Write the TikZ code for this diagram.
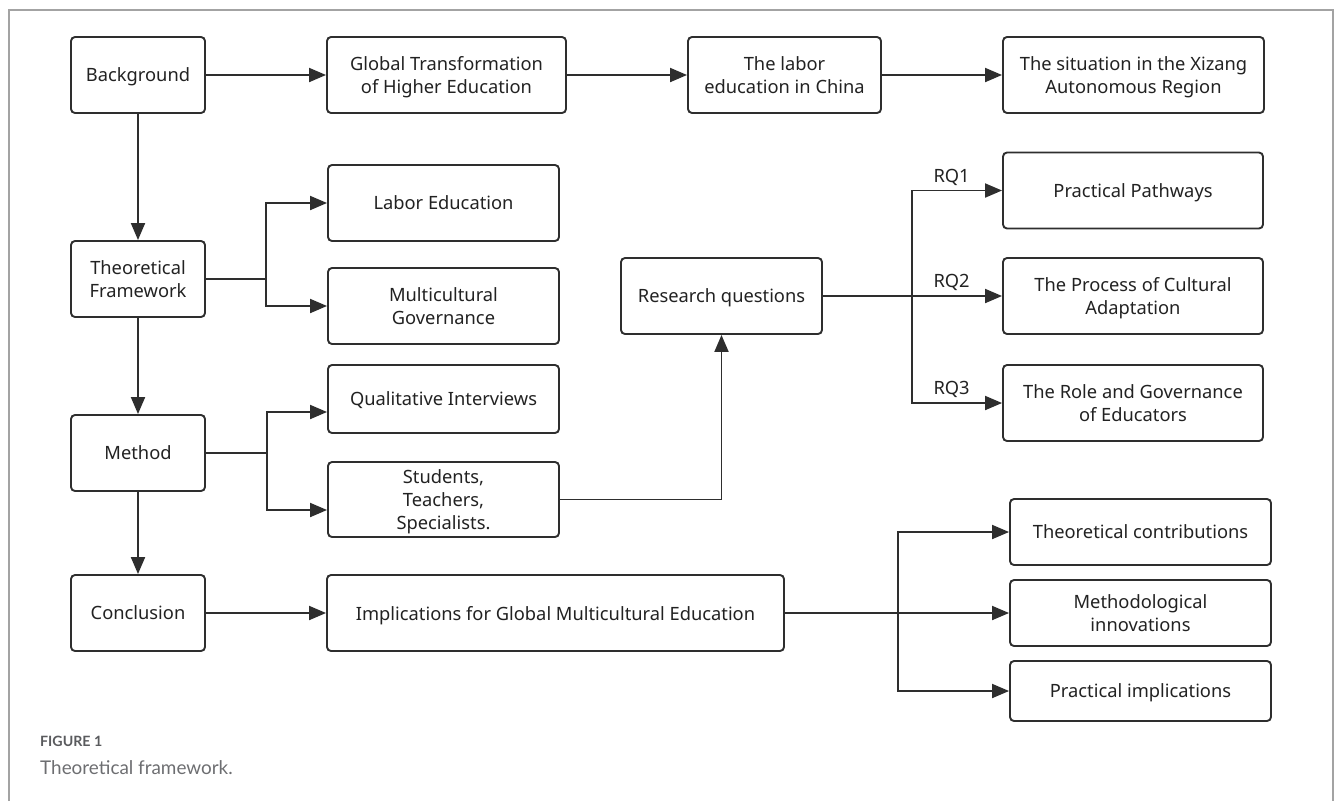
\documentclass[tikz,border=0pt]{standalone}
\usepackage{fontspec}
\setmainfont{Noto Sans}
\newfontfamily\captionfont{Lato}
\usetikzlibrary{arrows.meta, positioning}
\definecolor{linegray}{HTML}{2E2E2E}
\definecolor{textgray}{HTML}{222222}
\definecolor{framegray}{HTML}{A3A3A3}
\definecolor{captiongray}{HTML}{6D6E71}
\definecolor{labelgray}{HTML}{5A5B5E}

\begin{document}
\begin{tikzpicture}[x=1pt, y=-1pt]
% Define styles
\tikzstyle{box} = [rectangle, draw=linegray, line width=1.9pt, rounded corners=4pt, fill=white, text=textgray, align=center, inner sep=2pt, text depth=0pt, minimum height=76pt, font=\fontsize{18.3}{23}\selectfont]
\tikzstyle{arrow} = [line width=1.9pt, draw=linegray, -{Triangle[length=17pt,width=14pt]}]
\tikzstyle{wire} = [line width=1.9pt, draw=linegray]
\tikzstyle{rqlabel} = [above=4pt, text=textgray, font=\fontsize{18.3}{21}\selectfont, inner sep=0pt]
\tikzstyle{caption} = [anchor=west, inner sep=0pt, text=captiongray]
% Frame
\useasboundingbox (0,0) rectangle (1335,801);
\draw[framegray, line width=1.2pt] (9,801) -- (9,10) -- (1333,10) -- (1333,801);
% Place nodes
\node[box, minimum width=134pt] (bg) at (138,75) {Background};
\node[box, minimum width=239pt] (glob) at (446.5,75) {Global Transformation\\of Higher Education};
\node[box, minimum width=193pt] (china) at (784.5,75) {The labor\\education in China};
\node[box, minimum width=261pt] (xizang) at (1133.5,75) {The situation in the Xizang\\Autonomous Region};
\node[box, minimum width=134pt] (theo) at (138,279) {Theoretical\\Framework};
\node[box, minimum width=231pt] (labor) at (443.5,203) {Labor Education};
\node[box, minimum width=231pt] (multi) at (443.5,306) {Multicultural\\Governance};
\node[box, minimum width=134pt] (method) at (138,453) {Method};
\node[box, minimum width=231pt, minimum height=68pt] (qual) at (443.5,399) {Qualitative Interviews};
\node[box, minimum width=231pt, minimum height=75pt] (people) at (443.5,499.5) {Students,\\Teachers,\\Specialists.};
\node[box, minimum width=134pt] (concl) at (138,613) {Conclusion};
\node[box, minimum width=457pt] (impl) at (555.5,613) {Implications for Global Multicultural Education};
\node[box, minimum width=201pt] (rq) at (721.5,296) {Research questions};
\node[box, minimum width=260pt] (path) at (1133,190.5) {Practical Pathways};
\node[box, minimum width=260pt] (adapt) at (1133,296) {The Process of Cultural\\Adaptation};
\node[box, minimum width=260pt] (role) at (1133,403) {The Role and Governance\\of Educators};
\node[box, minimum width=261pt, minimum height=66pt] (contrib) at (1140.5,532) {Theoretical contributions};
\node[box, minimum width=261pt, minimum height=66pt] (methinn) at (1140.5,613) {Methodological\\innovations};
\node[box, minimum width=261pt, minimum height=60pt] (pract) at (1140.5,691) {Practical implications};
% Split points
\coordinate (tsplit) at (266,279);
\coordinate (msplit) at (267,453);
\coordinate (rsplit) at (912,296);
\coordinate (csplit) at (898,613);
% Draw arrows
\draw[arrow] (bg) -- (glob);
\draw[arrow] (glob) -- (china);
\draw[arrow] (china) -- (xizang);
\draw[arrow] (bg) -- (theo);
\draw[arrow] (theo) -- (method);
\draw[arrow] (method) -- (concl);
\draw[wire] (theo) -- (tsplit);
\draw[arrow] (tsplit) |- (labor);
\draw[arrow] (tsplit) |- (multi);
\draw[wire] (method) -- (msplit);
\draw[arrow] (msplit) |- ([yshift=-13pt]qual.west);
\draw[arrow] (msplit) |- ([yshift=-10.5pt]people.west);
\draw[arrow] (people) -| (rq);
\draw[wire] (rq) -- (rsplit);
\draw[arrow] (rsplit) |- node[rqlabel, pos=0.72] {RQ1} (path);
\draw[arrow] (rsplit) -- node[rqlabel, pos=0.44] {RQ2} (adapt);
\draw[arrow] (rsplit) |- node[rqlabel, pos=0.72] {RQ3} (role);
\draw[arrow] (concl) -- (impl);
\draw[wire] (impl) -- (csplit);
\draw[arrow] (csplit) |- (contrib);
\draw[arrow] (csplit) -- (methinn);
\draw[arrow] (csplit) |- (pract);
% Caption
\node[caption, text=labelgray, font=\captionfont\bfseries\fontsize{14.2}{17}\selectfont] (fignum) at (40,741) {FIGURE 1};
\node[caption, font=\captionfont\fontsize{18.9}{22}\selectfont] (figcap) at (40,768) {Theoretical framework.};
\end{tikzpicture}
\end{document}
